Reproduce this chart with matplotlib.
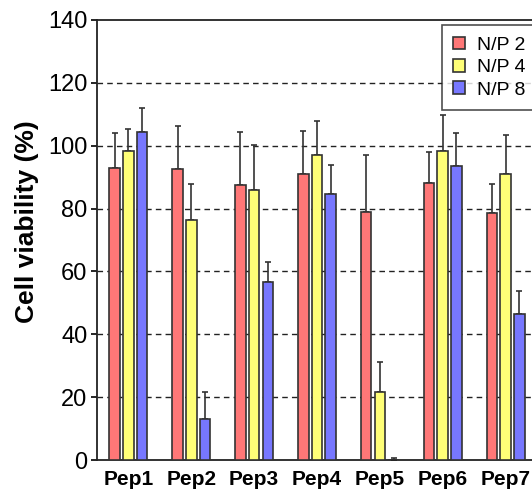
import numpy as np
import matplotlib
matplotlib.use("Agg")
import matplotlib.pyplot as plt

# ---------------- DATA ----------------
peptides = ["Pep1", "Pep2", "Pep3", "Pep4", "Pep5", "Pep6", "Pep7"]
series_names = ["N/P 2", "N/P 4", "N/P 8"]

np2_mean = [93.0, 92.6, 87.4, 91.0, 78.9, 88.1, 78.5]
np2_err = [10.9, 13.6, 17.0, 13.8, 18.0, 10.0, 9.3]

np4_mean = [98.3, 76.4, 86.0, 96.9, 21.7, 98.3, 91.0]
np4_err = [7.0, 11.4, 14.3, 11.1, 9.6, 11.4, 12.5]

np8_mean = [104.4, 13.0, 56.5, 84.7, 0.0, 93.4, 46.5]
np8_err = [7.5, 8.7, 6.6, 9.2, 0.5, 10.5, 7.4]

yticks = [0, 20, 40, 60, 80, 100, 120, 140]

# ---------------- STYLE ----------------
COLORS = ["#FF7777", "#FFFF77", "#7777FF"]
BAR_W = 0.17
OFFSET = 0.218

plt.rcParams["font.family"] = ["Liberation Sans", "DejaVu Sans"]

fig = plt.figure(figsize=(5.32, 4.90), dpi=100)
W, H = 532, 490
# axes runs past the right edge of the picture (the original is cropped)
left, right, top, bottom = 97, 537, 20, 460
ax = fig.add_axes([left / W, 1 - bottom / H, (right - left) / W, (bottom - top) / H])

x = np.arange(len(peptides))
means = [np2_mean, np4_mean, np8_mean]
errs = [np2_err, np4_err, np8_err]

for i, (m, e) in enumerate(zip(means, errs)):
    pos = x + (i - 1) * OFFSET
    ax.bar(pos, m, width=BAR_W, color=COLORS[i], edgecolor="#333333",
           linewidth=1.2, label=series_names[i], zorder=3)
    ax.errorbar(pos, m, yerr=[np.zeros(len(e)), e], fmt="none",
                ecolor="#333333", elinewidth=1.2, capsize=2.5, capthick=1.2,
                zorder=2)

ax.set_xlim(-0.5, len(peptides) - 0.5)
ax.set_ylim(0, 140)
ax.set_yticks(yticks)
ax.set_yticklabels([str(t) for t in yticks], fontsize=17)
ax.set_xticks(x)
ax.set_xticklabels(peptides, fontsize=15, fontweight="bold")
ax.tick_params(axis="x", length=0, pad=7)
ax.tick_params(axis="y", length=4, width=1.2, direction="out", pad=3)

ax.set_ylabel("Cell viability (%)", fontsize=19, fontweight="bold")
ax.yaxis.set_label_coords((39 - left) / (right - left), (bottom - 222) / (bottom - top))

for yv in yticks[1:-1]:
    ax.axhline(yv, color="#222222", linestyle=(0, (4, 3)), linewidth=1.0, zorder=1)

for sp in ax.spines.values():
    sp.set_linewidth(1.3)
    sp.set_color("#222222")

leg = ax.legend(loc="upper left", bbox_to_anchor=(441.7 / W, 1 - 25 / H),
                bbox_transform=fig.transFigure, fontsize=14, frameon=True,
                fancybox=False, handlelength=0.62, handleheight=0.62,
                handletextpad=0.57, borderpad=0.6, labelspacing=0.27,
                borderaxespad=0)
leg.get_frame().set_edgecolor("#222222")
leg.get_frame().set_linewidth(1.2)

fig.savefig("out.png", dpi=100)
